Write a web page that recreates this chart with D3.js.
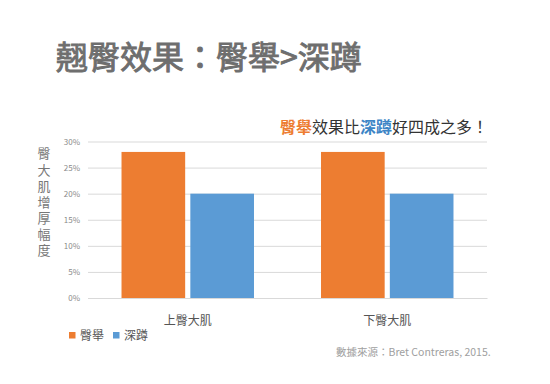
<!DOCTYPE html>
<html>
<head>
<meta charset="utf-8">
<script src="https://cdn.jsdelivr.net/npm/d3@7"></script>
<style>
html,body{margin:0;padding:0;background:#fff;}
svg{display:block;}
text{font-family:"Noto Sans CJK TC","Noto Sans",sans-serif;}
</style>
</head>
<body>
<svg id="c" width="550" height="384"></svg>
<script>
const categories = ["上臀大肌", "下臀大肌"];
const seriesNames = ["臀舉", "深蹲"];
const hipThrust = [0.28, 0.28];
const squat = [0.20, 0.20];
const yTicks = [0, 0.05, 0.10, 0.15, 0.20, 0.25, 0.30];
const title = "翹臀效果：臀舉>深蹲";
const yTitle = "臀大肌增厚幅度";
const source = "數據來源：Bret Contreras, 2015.";
const colors = ["#ED7D31", "#5B9BD5"];

const svg = d3.select("#c");
const m = {left: 88, right: 487, top: 141.5, bottom: 298};

const x0 = d3.scaleBand().domain(categories).range([m.left, m.right]).paddingInner(0).paddingOuter(0);
const bw = x0.bandwidth();
const x1 = d3.scaleBand().domain(seriesNames).range([bw * 0.168, bw * 0.832]).paddingInner(0.075).paddingOuter(0);
const y = d3.scaleLinear().domain([0, 0.30]).range([m.bottom, m.top]);

// title
svg.append("text").attr("x", 56).attr("y", 69)
  .attr("font-size", 32).attr("font-weight", 400).attr("fill", "#6e6e6e")
  .attr("stroke", "#6e6e6e").attr("stroke-width", 0.9)
  .text(title);

// subtitle with coloured words
const sub = svg.append("text").attr("x", 280).attr("y", 133).attr("font-size", 16).attr("fill", "#333");
sub.append("tspan").attr("fill", colors[0]).attr("font-weight", 700).text(seriesNames[0]);
sub.append("tspan").text("效果比");
sub.append("tspan").attr("fill", "#3d85c6").attr("font-weight", 700).text(seriesNames[1]);
sub.append("tspan").text("好四成之多！");

// gridlines
const yAxis = d3.axisLeft(y).tickValues(yTicks).tickFormat(d3.format(".0%")).tickSize(-(m.right - m.left)).tickPadding(8);
const ga = svg.append("g").attr("transform", `translate(${m.left},0)`).call(yAxis);
ga.select(".domain").remove();
ga.selectAll(".tick line").attr("stroke", "#d9d9d9").attr("stroke-width", 1);
ga.selectAll(".tick text").attr("fill", "#8a8a8a").attr("font-size", 8).attr("font-family", "'Open Sans',sans-serif");

// bars
const data = categories.map((c, i) => ({cat: c, vals: [hipThrust[i], squat[i]]}));
const groups = svg.append("g").selectAll("g").data(data).join("g")
  .attr("transform", d => `translate(${x0(d.cat)},0)`);
groups.selectAll("rect").data(d => d.vals.map((v, j) => ({s: seriesNames[j], v, j})))
  .join("rect")
  .attr("x", d => x1(d.s)).attr("width", x1.bandwidth())
  .attr("y", d => y(d.v)).attr("height", d => y(0) - y(d.v))
  .attr("fill", d => colors[d.j]);

// category axis
const xAxis = d3.axisBottom(x0).tickSize(0).tickPadding(18);
const gx = svg.append("g").attr("transform", `translate(0,${m.bottom})`).call(xAxis);
gx.select(".domain").attr("stroke", "#d9d9d9");
gx.selectAll(".tick text").attr("fill", "#555").attr("font-size", 12).attr("font-family", "'Noto Sans CJK TC',sans-serif");

// y title (vertical)
svg.append("text").attr("x", 44).attr("y", 147)
  .attr("font-size", 13).attr("fill", "#777")
  .style("writing-mode", "vertical-rl").style("letter-spacing", "3.1px")
  .text(yTitle);

// legend
const lg = svg.append("g").selectAll("g").data(seriesNames).join("g")
  .attr("transform", (d, i) => `translate(${[69, 113][i]},0)`);
lg.append("rect").attr("x", 0).attr("y", 332).attr("width", 6.5).attr("height", 6.5).attr("fill", (d, i) => colors[i]);
lg.append("text").attr("x", 11).attr("y", 340).attr("font-size", 12).attr("fill", "#555").text(d => d);

// source
svg.append("text").attr("x", 336).attr("y", 356).attr("font-size", 10.5).attr("fill", "#a0a0a0")
  .text(source);
</script>
</body>
</html>
